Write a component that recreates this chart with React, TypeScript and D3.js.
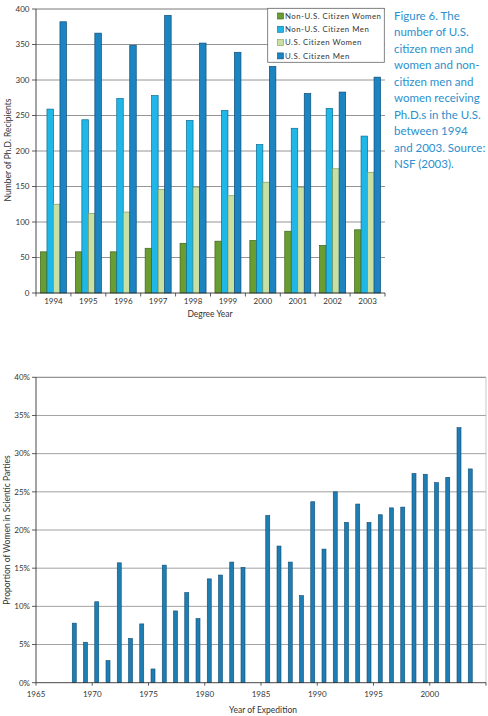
import React from "react";
import * as d3 from "d3";

const degreeYears = ["1994", "1995", "1996", "1997", "1998", "1999", "2000", "2001", "2002", "2003"];
const seriesNames = ["Non-U.S. Citizen Women", "Non-U.S. Citizen Men", "U.S. Citizen Women", "U.S. Citizen Men"];
const nonUSWomen = [58, 58, 58, 63, 70, 73, 74, 87, 67, 89];
const nonUSMen = [259, 244, 274, 278, 243, 257, 209, 232, 260, 221];
const usWomen = [125, 112, 114, 146, 149, 137, 156, 149, 175, 170];
const usMen = [382, 366, 349, 391, 352, 339, 319, 281, 283, 304];
const topTicks = [0, 50, 100, 150, 200, 250, 300, 350, 400];

const seriesFill = ["#6a9d31", "#1fb7e8", "#c9e0a5", "#1b84c1"];
const seriesStroke = ["#3b6416", "#0b6d93", "#7f9c5c", "#0d4d78"];

const captionLines = [
  "Figure 6. The",
  "number of U.S.",
  "citizen men and",
  "women and non-",
  "citizen men and",
  "women receiving",
  "Ph.D.s in the U.S.",
  "between 1994",
  "and 2003. Source:",
  "NSF (2003).",
];

const expeditionYears = [
  1968.4, 1969.4, 1970.4, 1971.4, 1972.4, 1973.4, 1974.4, 1975.4, 1976.4, 1977.4, 1978.4, 1979.4, 1980.4, 1981.4, 1982.4, 1983.4,
  1985.6, 1986.6, 1987.6, 1988.6, 1989.6, 1990.6, 1991.6, 1992.6, 1993.6, 1994.6, 1995.6, 1996.6, 1997.6, 1998.6, 1999.6, 2000.6, 2001.6, 2002.6, 2003.6,
];
const womenShare = [
  7.8, 5.3, 10.6, 2.9, 15.7, 5.8, 7.7, 1.8, 15.4, 9.4, 11.8, 8.4, 13.6, 14.1, 15.8, 15.1,
  21.9, 17.9, 15.8, 11.4, 23.7, 17.5, 25.0, 21.0, 23.4, 21.0, 22.0, 22.9, 23.0, 27.4, 27.3, 26.2, 26.9, 33.4, 28.0,
];
const bottomYTicks = [0, 5, 10, 15, 20, 25, 30, 35, 40];
const bottomXTicks = [1965, 1970, 1975, 1980, 1985, 1990, 1995, 2000];

const FONT = "Lato, 'Open Sans', sans-serif";
const TICK_FS = 8;
const TITLE_FS = 8.5;

export default function App() {
  const seriesValues = [nonUSWomen, nonUSMen, usWomen, usMen];

  const tx0 = d3.scaleBand<string>().domain(degreeYears).range([36, 385]).paddingInner(0.255).paddingOuter(0.1275);
  const tStep = tx0.step();
  const tx1 = d3.scaleBand<number>().domain([0, 1, 2, 3]).range([0, tx0.bandwidth()]).padding(0);
  const ty = d3.scaleLinear().domain([0, 400]).range([293, 9]);

  const bx = d3.scaleLinear().domain([1965, 2005]).range([36, 486]);
  const by = d3.scaleLinear().domain([0, 40]).range([682.7, 377.3]);
  const barW = 4;

  return (
    <svg width={488} height={716} style={{ position: "absolute", left: 0, top: 0, background: "#fff" }} fontFamily={FONT}>
      <rect x={0} y={0} width={488} height={716} fill="#fff" />
      {/* ===== Top chart ===== */}
      {topTicks.map((t) => (
        <g key={"tg" + t}>
          {t > 0 && <line x1={36} x2={385} y1={ty(t)} y2={ty(t)} stroke={t === 400 ? "#555" : "#7a7a7a"} strokeWidth={0.8} />}
          <line x1={32} x2={36} y1={ty(t)} y2={ty(t)} stroke="#333" strokeWidth={0.8} />
          <text x={29.5} y={ty(t)} dy="0.35em" textAnchor="end" fontSize={TICK_FS} fill="#333">{t}</text>
        </g>
      ))}
      {degreeYears.map((yr, i) => (
        <g key={"grp" + yr}>
          {seriesValues.map((vals, s) => {
            const x = (tx0(yr) as number) + (tx1(s) as number);
            return (
              <rect key={s} x={x} y={ty(vals[i])} width={tx1.bandwidth()} height={ty(0) - ty(vals[i])}
                fill={seriesFill[s]} stroke={seriesStroke[s]} strokeWidth={0.7} />
            );
          })}
          <text x={(tx0(yr) as number) + tx0.bandwidth() / 2} y={301.5} dy="0.35em" textAnchor="middle" fontSize={TICK_FS} fill="#333">{yr}</text>
        </g>
      ))}
      {d3.range(degreeYears.length + 1).map((i) => (
        <line key={"xt" + i} x1={36 + i * tStep} x2={36 + i * tStep} y1={293} y2={296.5} stroke="#333" strokeWidth={0.8} />
      ))}
      <line x1={36} x2={36} y1={9} y2={293} stroke="#333" strokeWidth={0.9} />
      <line x1={36} x2={385} y1={293} y2={293} stroke="#333" strokeWidth={0.9} />
      <text x={210} y={314} dy="0.35em" textAnchor="middle" fontSize={TITLE_FS} fill="#333">Degree Year</text>
      <text transform="translate(8.5,150) rotate(-90)" textAnchor="middle" dy="0.35em" fontSize={TITLE_FS} fill="#333">Number of Ph.D. Recipients</text>

      {/* Legend */}
      <rect x={267.7} y={8.3} width={116.6} height={54} fill="#fff" stroke="#666" strokeWidth={0.8} />
      {seriesNames.map((n, s) => (
        <g key={"lg" + s}>
          <rect x={277.5} y={13 + s * 13.3} width={6} height={6} fill={seriesFill[s]} stroke={seriesStroke[s]} strokeWidth={0.6} />
          <text x={285} y={16 + s * 13.3} dy="0.35em" fontSize={7.8} letterSpacing={0.5} fill="#333">{n}</text>
        </g>
      ))}

      {/* Caption */}
      {captionLines.map((l, i) => (
        <text key={"cap" + i} x={394} y={19.5 + i * 16.5} fontSize={11.5} fill="#2b8fce">{l}</text>
      ))}

      {/* ===== Bottom chart ===== */}
      {bottomYTicks.map((t) => (
        <g key={"bg" + t}>
          {t > 0 && <line x1={36} x2={486} y1={by(t)} y2={by(t)} stroke={t === 40 ? "#555" : "#8a8a8a"} strokeWidth={0.8} />}
          <line x1={32} x2={36} y1={by(t)} y2={by(t)} stroke="#333" strokeWidth={0.8} />
          <text x={30} y={by(t)} dy="0.35em" textAnchor="end" fontSize={TICK_FS} fill="#333">{t + "%"}</text>
        </g>
      ))}
      <line x1={486} x2={486} y1={by(40)} y2={by(0)} stroke="#bbb" strokeWidth={0.8} />
      {expeditionYears.map((yr, i) => (
        <rect key={"bb" + i} x={bx(yr) - barW / 2} y={by(womenShare[i])} width={barW} height={by(0) - by(womenShare[i])}
          fill="#1e7db3" stroke="#0e4c73" strokeWidth={0.6} />
      ))}
      <line x1={36} x2={36} y1={by(40)} y2={by(0)} stroke="#333" strokeWidth={0.9} />
      <line x1={36} x2={486} y1={by(0)} y2={by(0)} stroke="#333" strokeWidth={0.9} />
      {bottomXTicks.map((t) => (
        <g key={"bx" + t}>
          <line x1={bx(t)} x2={bx(t)} y1={by(0)} y2={by(0) + 3} stroke="#333" strokeWidth={0.8} />
          <text x={bx(t)} y={694.5} dy="0.35em" textAnchor="middle" fontSize={TICK_FS} fill="#333">{t}</text>
        </g>
      ))}
      <line x1={486} x2={486} y1={by(0)} y2={by(0) + 3} stroke="#333" strokeWidth={0.8} />
      <text x={263} y={710.5} dy="0.35em" textAnchor="middle" fontSize={TITLE_FS} fill="#333">Year of Expedition</text>
      <text transform="translate(7.5,530) rotate(-90)" textAnchor="middle" dy="0.35em" fontSize={TITLE_FS} fill="#333">Proportion of Women in Scientic Parties</text>
    </svg>
  );
}
